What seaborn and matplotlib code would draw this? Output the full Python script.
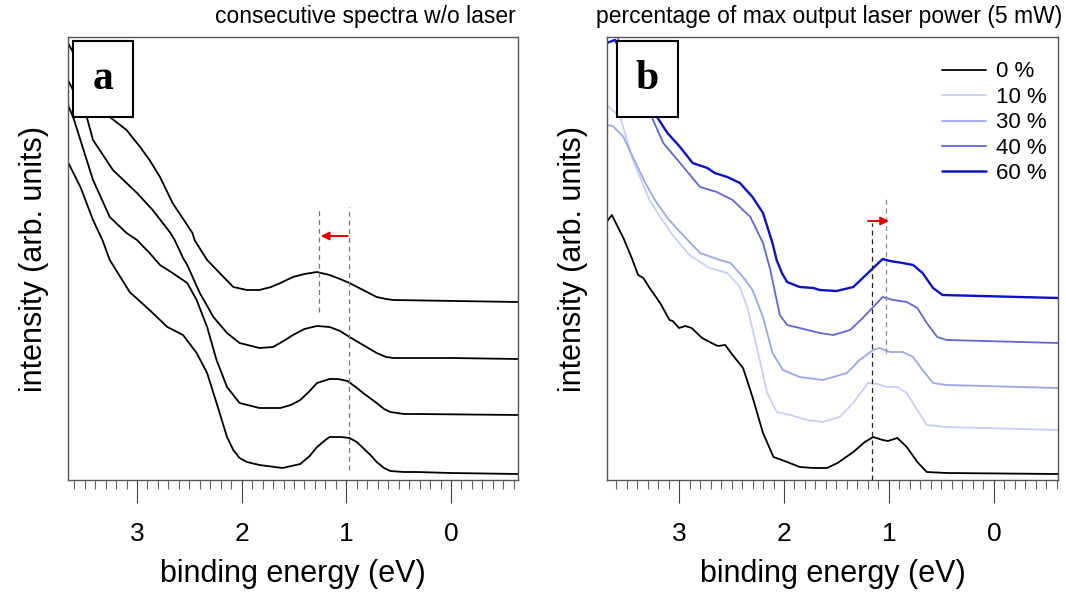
import numpy as np
import pandas as pd
import matplotlib
matplotlib.use("Agg")
import matplotlib.pyplot as plt
from matplotlib.patches import Rectangle
from matplotlib.ticker import MultipleLocator
import seaborn as sns

# ---------------- data: panel a (consecutive spectra w/o laser) ----------------
a1_E = [3.66, 3.54, 3.42, 3.33, 3.26, 3.07, 2.88, 2.71, 2.56, 2.43, 2.33, 2.24, 2.14, 2.08, 2.02,
        1.95, 1.83, 1.61, 1.44, 1.35, 1.28, 1.20, 1.16, 1.05, 0.97, 0.90, 0.84, 0.77, 0.71, 0.64,
        0.58, 0.45, 0.33, 0.0, -0.64]
a1_I = [318, 293, 260, 240, 220, 188, 170, 153, 145, 127, 107, 77, 43, 30, 22,
        18, 15, 12, 16, 24, 33, 40, 43, 43, 42, 38, 32, 25, 18, 12,
        9, 8, 8, 7, 6]

a2_E = [3.66, 3.61, 3.42, 3.26, 3.10, 3.00, 2.88, 2.78, 2.66, 2.52, 2.43, 2.33, 2.24, 2.14, 2.02,
        1.83, 1.63, 1.53, 1.44, 1.35, 1.28, 1.16, 1.08, 0.99, 0.91, 0.84, 0.71, 0.64, 0.58, 0.45,
        0.33, -0.64]
a2_I = [375, 363, 300, 263, 247, 240, 227, 215, 207, 197, 180, 153, 120, 93, 77,
        72, 72, 75, 80, 89, 97, 101, 101, 99, 93, 87, 77, 71, 68, 66,
        66, 65]

a3_E = [3.66, 3.48, 3.42, 3.23, 3.00, 2.85, 2.68, 2.64, 2.56, 2.52, 2.40, 2.27, 2.14, 2.02, 1.83,
        1.70, 1.60, 1.51, 1.40, 1.28, 1.16, 1.06, 0.97, 0.84, 0.71, 0.62, 0.55, 0.0, -0.64]
a3_I = [400, 363, 340, 310, 287, 270, 247, 240, 222, 215, 187, 163, 147, 137, 132,
        133, 139, 145, 151, 154, 153, 149, 143, 135, 127, 123, 122, 122, 121]

a4_E = [3.66, 3.26, 3.10, 2.97, 2.88, 2.78, 2.66, 2.47, 2.45, 2.33, 2.21, 2.08, 1.95, 1.83, 1.72,
        1.63, 1.51, 1.40, 1.28, 1.16, 1.06, 0.97, 0.84, 0.71, 0.62, 0.55, -0.64]
a4_I = [437, 363, 350, 333, 320, 303, 277, 247, 240, 220, 207, 193, 190, 190, 193,
        197, 203, 206, 208, 205, 201, 197, 190, 183, 181, 180, 178]

# ---------------- data: panel b (laser power series) ----------------
b_labels = ["0 %", "10 %", "30 %", "40 %", "60 %"]
b_colors = ["#000000", "#c6d0f4", "#98a8ea", "#5f66d6", "#0a12c4"]

b0_E = [3.69, 3.64, 3.53, 3.45, 3.39, 3.34, 3.28, 3.18, 3.09, 3.06, 3.00, 2.94, 2.88, 2.78, 2.69,
        2.63, 2.56, 2.49, 2.39, 2.30, 2.20, 2.10, 1.97, 1.85, 1.72, 1.59, 1.49, 1.34, 1.23, 1.15,
        1.06, 1.01, 0.92, 0.83, 0.73, 0.64, 0.45, -0.61]
b0_I = [258, 265, 242, 222, 205, 202, 192, 177, 160, 159, 152, 154, 152, 142, 137,
        134, 135, 125, 112, 83, 47, 23, 18, 13, 12, 12, 17, 28, 38, 43,
        40, 39, 42, 33, 18, 8, 7, 6]

b10_E = [3.69, 3.56, 3.44, 3.28, 3.18, 3.06, 2.90, 2.71, 2.54, 2.42, 2.35, 2.26, 2.16, 2.07, 1.94,
         1.78, 1.63, 1.47, 1.34, 1.20, 1.11, 1.02, 0.92, 0.83, 0.73, 0.64, 0.45, -0.61]
b10_I = [375, 363, 320, 280, 263, 245, 225, 212, 207, 193, 173, 133, 87, 68, 65,
         60, 58, 63, 77, 97, 96, 93, 93, 87, 70, 55, 53, 50]

b30_E = [3.69, 3.63, 3.53, 3.44, 3.32, 3.23, 3.11, 2.99, 2.80, 2.61, 2.51, 2.39, 2.30, 2.20, 2.11,
         2.01, 1.85, 1.63, 1.40, 1.28, 1.15, 1.09, 0.99, 0.87, 0.77, 0.68, 0.58, 0.45, -0.61]
b30_I = [355, 354, 343, 323, 297, 280, 262, 248, 227, 220, 217, 203, 190, 163, 127,
         110, 103, 100, 107, 120, 130, 132, 128, 128, 123, 110, 97, 95, 92]

b40_E = [3.69, 3.60, 3.45, 3.26, 3.15, 2.99, 2.80, 2.64, 2.49, 2.32, 2.20, 2.13, 2.04, 1.97, 1.85,
         1.66, 1.53, 1.37, 1.25, 1.15, 1.06, 0.96, 0.83, 0.73, 0.64, 0.54, 0.45, -0.61]
b40_I = [455, 448, 395, 363, 337, 317, 293, 288, 280, 263, 237, 210, 165, 155, 152,
         147, 145, 150, 162, 173, 183, 180, 178, 172, 157, 143, 140, 137]

b60_E = [3.69, 3.61, 3.45, 3.21, 3.11, 2.99, 2.87, 2.73, 2.66, 2.54, 2.42, 2.30, 2.20, 2.11, 2.07,
         2.02, 1.97, 1.85, 1.72, 1.66, 1.50, 1.34, 1.25, 1.15, 1.06, 0.99, 0.87, 0.77, 0.68, 0.58,
         0.49, -0.61]
b60_I = [437, 440, 410, 363, 347, 333, 317, 312, 307, 303, 297, 283, 267, 237, 220,
         207, 198, 193, 192, 190, 189, 193, 202, 212, 221, 219, 217, 215, 207, 192,
         185, 182]

# guide lines / arrows (energy, intensity range)
a_guides_E = [1.26, 0.975]
a_guides_lo = [168, 10]
a_guides_hi = [273, 273]
a_arrow_E = [0.985, 1.245]
a_arrow_I = 244

b_guides_E = [1.16, 1.03]
b_guides_lo = [0, 127]
b_guides_hi = [257, 282]
b_guides_col = ["#222222", "#888888"]
b_arrow_E = [1.20, 1.00]
b_arrow_I = 259

# ---------------- build tables ----------------
a_df = pd.concat([
    pd.DataFrame({"E": e, "I": i, "curve": k})
    for k, (e, i) in enumerate([(a1_E, a1_I), (a2_E, a2_I), (a3_E, a3_I), (a4_E, a4_I)])
], ignore_index=True)

b_df = pd.concat([
    pd.DataFrame({"E": e, "I": i, "power": lab})
    for lab, (e, i) in zip(b_labels, [(b0_E, b0_I), (b10_E, b10_I), (b30_E, b30_I),
                                      (b40_E, b40_I), (b60_E, b60_I)])
], ignore_index=True)

sns.set_theme(style="white")
plt.rcParams["font.family"] = ["Liberation Sans", "DejaVu Sans"]
plt.rcParams["text.color"] = "black"
plt.rcParams["axes.labelcolor"] = "black"
plt.rcParams["xtick.labelcolor"] = "black"

fig = plt.figure(figsize=(10.66, 5.92), dpi=100)
axa = fig.add_axes([68 / 1066, 1 - 480 / 592, 450 / 1066, 443 / 592])
axb = fig.add_axes([607 / 1066, 1 - 480 / 592, 451 / 1066, 443 / 592])

sns.lineplot(data=a_df, x="E", y="I", units="curve", estimator=None, color="black",
             lw=1.3, sort=False, ax=axa)
sns.lineplot(data=b_df, x="E", y="I", hue="power", hue_order=b_labels,
             palette=dict(zip(b_labels, b_colors)), estimator=None, lw=1.3,
             sort=False, ax=axb)
for line, lab in zip(axb.get_lines(), b_labels):
    if lab == "60 %":
        line.set_linewidth(1.7)

for ax, xl in [(axa, (3.659, -0.640)), (axb, (3.686, -0.610))]:
    ax.set_xlim(*xl)
    ax.set_ylim(0, 443)
    ax.set_yticks([])
    ax.xaxis.set_major_locator(MultipleLocator(1))
    ax.xaxis.set_minor_locator(MultipleLocator(0.1))
    ax.tick_params(axis="x", which="major", direction="out", length=16.5, width=0.8,
                   color="#444444", labelcolor="black", labelsize=19, pad=14, bottom=True)
    ax.tick_params(axis="x", which="minor", direction="out", length=6.5, width=0.8,
                   color="#666666", bottom=True)
    for s in ax.spines.values():
        s.set_visible(True)
        s.set_color("#555555")
        s.set_linewidth(1.0)
    ax.set_xlabel("binding energy (eV)", fontsize=22, labelpad=9, color="black")
    ax.set_ylabel("intensity (arb. units)", fontsize=22, labelpad=14, color="black")

# panel letters
for ax, x0, x1, letter in [(axa, 0.011, 0.144, "a"), (axb, 0.022, 0.157, "b")]:
    ax.add_patch(Rectangle((x0, 0.819), x1 - x0, 0.172, transform=ax.transAxes,
                           facecolor="white", edgecolor="black", lw=1.5, zorder=5))
    ax.text((x0 + x1) / 2, 0.905, letter, transform=ax.transAxes, ha="center", va="center",
            fontsize=30, fontweight="bold", family=["Liberation Serif", "DejaVu Serif"],
            color="black", zorder=6)

# guides panel a
axa.vlines(a_guides_E, a_guides_lo, a_guides_hi, colors="#777777", linestyles=(0, (4, 3)), lw=0.9)
axa.annotate("", xy=(a_arrow_E[1], a_arrow_I), xytext=(a_arrow_E[0], a_arrow_I),
             arrowprops=dict(arrowstyle="-|>", color="#e00000", lw=1.4,
                             mutation_scale=12, shrinkA=0, shrinkB=0))
# guides panel b
axb.vlines(b_guides_E, b_guides_lo, b_guides_hi, colors=b_guides_col,
           linestyles=(0, (4, 3)), lw=0.9)
axb.annotate("", xy=(b_arrow_E[1], b_arrow_I), xytext=(b_arrow_E[0], b_arrow_I),
             arrowprops=dict(arrowstyle="-|>", color="#e00000", lw=1.4,
                             mutation_scale=12, shrinkA=0, shrinkB=0))

# titles
axa.text(0.995, 1.02, "consecutive spectra w/o laser", transform=axa.transAxes,
         ha="right", va="bottom", fontsize=16.5, color="black")
axb.text(1.009, 1.02, "percentage of max output laser power (5 mW)", transform=axb.transAxes,
         ha="right", va="bottom", fontsize=16.5, color="black")

# legend
handles, labels = axb.get_legend_handles_labels()
leg = axb.legend(handles, labels, loc="upper right", bbox_to_anchor=(0.995, 0.965),
                 frameon=False, fontsize=16, handlelength=2.0, handletextpad=0.45,
                 labelspacing=0.2, borderaxespad=0.0)
for t in leg.get_texts():
    t.set_color("black")
for h, lab in zip(leg.get_lines(), labels):
    h.set_linewidth(1.8 if lab == "60 %" else 1.3)

fig.savefig("out.png", dpi=100)
